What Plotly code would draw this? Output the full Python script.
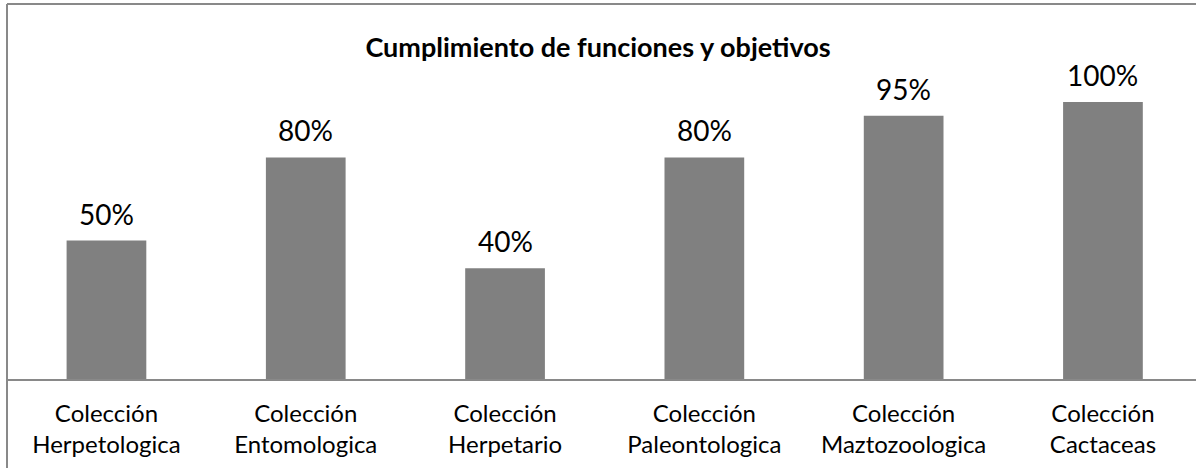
import plotly.graph_objects as go

categories = ["Colección<br>Herpetologica", "Colección<br>Entomologica", "Colección<br>Herpetario",
              "Colección<br>Paleontologica", "Colección<br>Maztozoologica", "Colección<br>Cactaceas"]
values = [0.50, 0.80, 0.40, 0.80, 0.95, 1.00]
title = "Cumplimiento de funciones y objetivos"

FIG_W, FIG_H = 1196, 468
L, R, T, B = 8, 1196, 4, 379
PW, PH = R - L, B - T

fig = go.Figure()
fig.add_trace(go.Bar(x=list(range(len(categories))), y=values, width=0.4,
                     marker=dict(color="#808080", line=dict(width=0)),
                     hoverinfo="skip"))

for i, v in enumerate(values):
    fig.add_annotation(x=i, y=v, text=f"{round(v*100)}%", showarrow=False,
                       yanchor="middle", yshift=27,
                       font=dict(family="Lato", size=28, color="#000000"))

# chart-area border (left and top edges; right/bottom are outside the picture)
bx = (7 - L) / PW
by = (B - 4) / PH
fig.add_shape(type="line", xref="paper", yref="paper", x0=bx, x1=bx,
              y0=-(FIG_H + 5 - B) / PH, y1=by, line=dict(color="#898989", width=2))
fig.add_shape(type="line", xref="paper", yref="paper", x0=bx, x1=(FIG_W + 5 - L) / PW,
              y0=by, y1=by, line=dict(color="#898989", width=2))

fig.update_layout(
    width=FIG_W, height=FIG_H,
    margin=dict(l=L, r=FIG_W - R, t=T, b=FIG_H - B, autoexpand=False),
    paper_bgcolor="white", plot_bgcolor="white",
    showlegend=False,
    title=dict(text=f"<b>{title}</b>", x=0.5, xanchor="center", y=1 - 48 / FIG_H,
               yanchor="middle", font=dict(family="Lato", size=27, color="#000000")),
    xaxis=dict(range=[-0.494, -0.494 + PW / 199.3], tickmode="array",
               tickvals=list(range(len(categories))), ticktext=categories,
               showline=True, linecolor="#898989", linewidth=2, showgrid=False,
               zeroline=False, ticks="", tickfont=dict(family="Lato", size=24, color="#000000"),
               ticklabelstandoff=12, fixedrange=True, automargin=False),
    yaxis=dict(range=[0, PH / 277], showticklabels=False, showgrid=False, zeroline=False,
               showline=False, ticks="", fixedrange=True, automargin=False),
    font=dict(family="Lato"),
)

fig.write_html("out.html", config={"displayModeBar": False},
               post_script="document.body.style.margin='0';document.body.style.overflow='hidden';")
